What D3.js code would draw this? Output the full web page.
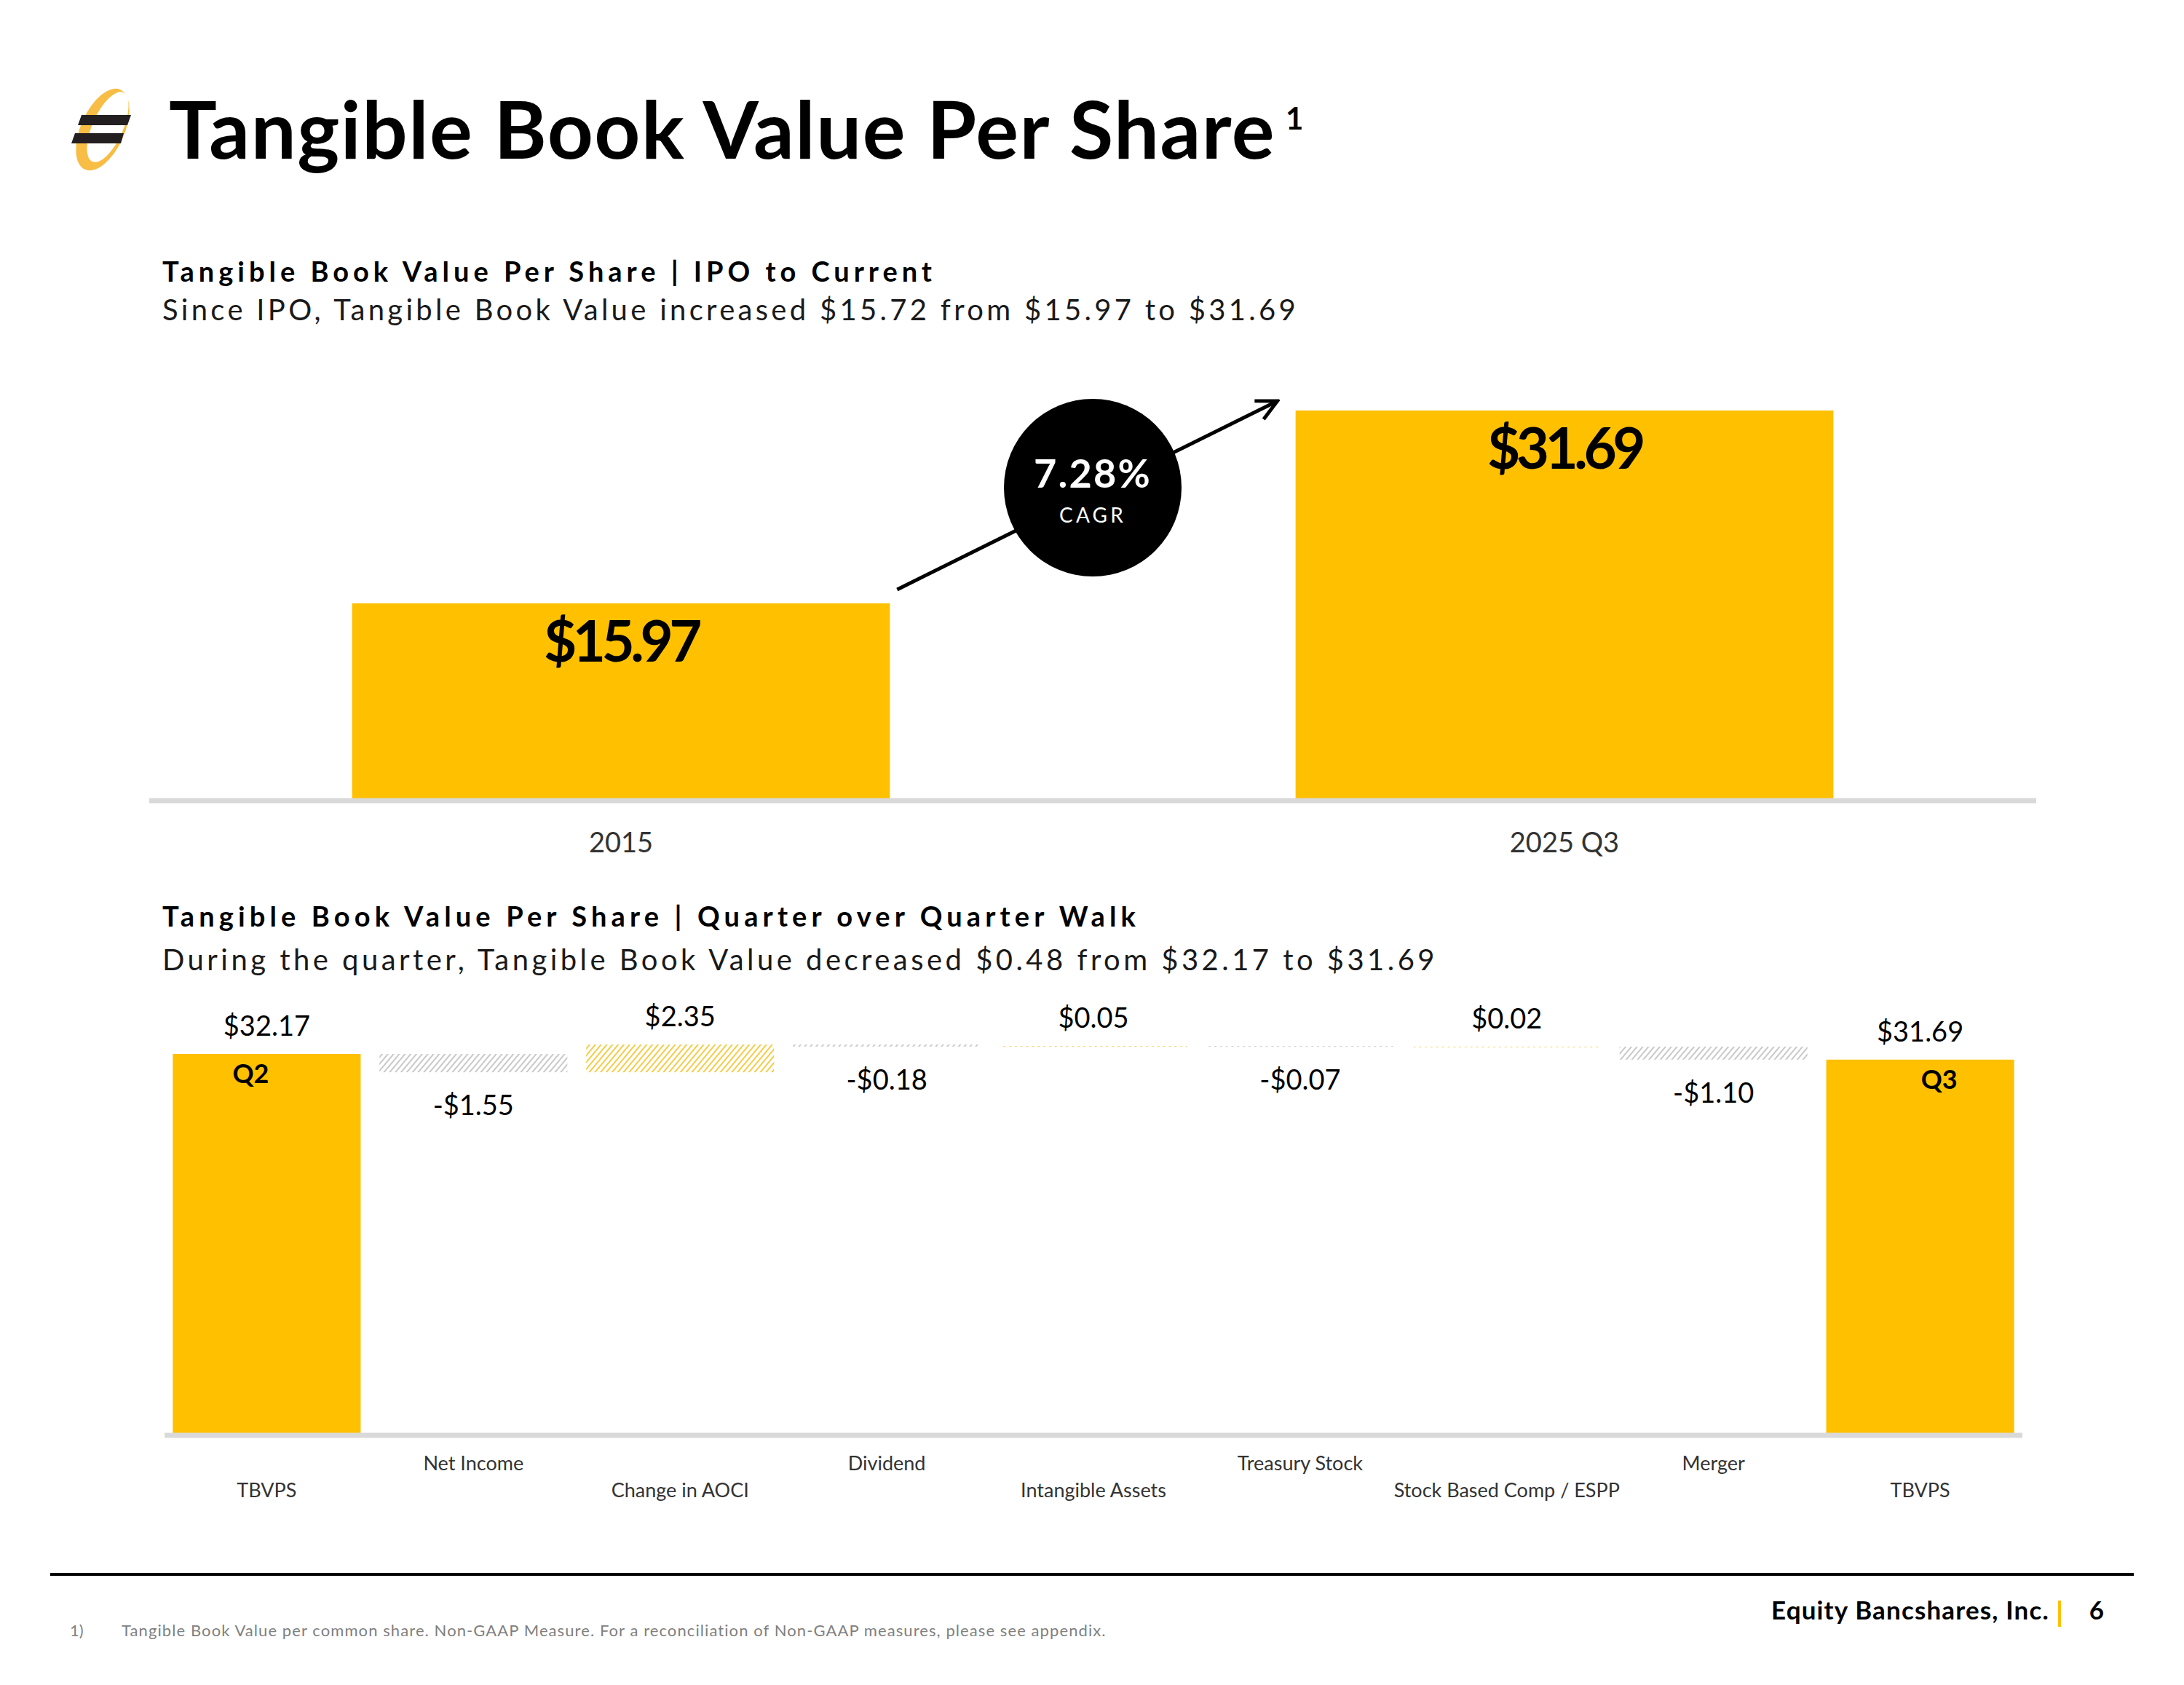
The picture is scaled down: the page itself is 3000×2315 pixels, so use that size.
<!DOCTYPE html>
<html>
<head>
<meta charset="utf-8">
<script src="https://cdn.jsdelivr.net/npm/d3@7"></script>
<style>
  body { margin: 0; background: #fff; }
  svg { display: block; font-family: Lato, "Open Sans", sans-serif; }
</style>
</head>
<body>
<script>
// data, top chart (IPO to current)
const ipoCats = ["2015", "2025 Q3"];
const ipoValues = [15.97, 31.69];
const cagrText = "7.28%";

// data, bottom chart (quarter walk)
const walkCats = ["TBVPS", "Net Income", "Change in AOCI", "Dividend", "Intangible Assets",
  "Treasury Stock", "Stock Based Comp / ESPP", "Merger", "TBVPS"];
const walkValues = [32.17, -1.55, 2.35, -0.18, 0.05, -0.07, 0.02, -1.10, 31.69];
const walkTypes = ["total", "delta", "delta", "delta", "delta", "delta", "delta", "delta", "total"];
const walkTags = ["Q2", "", "", "", "", "", "", "", "Q3"];

const gold = "#FFC000";
const axisGray = "#D9D9D9";

const svg = d3.select("body").append("svg")
  .attr("width", 3000)
  .attr("height", 2315)

svg.append("rect").attr("width", 3000).attr("height", 2315).attr("fill", "#fff")

// stretch/squeeze a text to a given width using letter spacing
function fit(sel, w) {
  const n = sel.text().length
  const w0 = sel.node().getComputedTextLength()
  sel.attr("letter-spacing", (w - w0) / n)
  return sel
}

// hatch patterns for the walk steps
const defs = svg.append("defs")
function hatch(id, color) {
  const p = defs.append("pattern")
    .attr("id", id)
    .attr("patternUnits", "userSpaceOnUse")
    .attr("width", 6).attr("height", 6)
    .attr("patternTransform", "rotate(40)")
  p.append("rect").attr("width", 6).attr("height", 6).attr("fill", "#fff")
  p.append("line")
    .attr("x1", 1).attr("y1", 0).attr("x2", 1).attr("y2", 6)
    .attr("stroke", color).attr("stroke-width", 2)
}
hatch("hatchNeg", "#C9C9C9")
hatch("hatchPos", "#F5CC4A")

defs.append("marker")
  .attr("id", "arrow")
  .attr("viewBox", "0 0 10 10")
  .attr("refX", 9).attr("refY", 5)
  .attr("markerWidth", 7).attr("markerHeight", 7)
  .attr("orient", "auto")
  .append("path")
  .attr("d", "M1,1 L9,5 L1,9")
  .attr("fill", "none")
  .attr("stroke", "#000")
  .attr("stroke-width", 1.4)

// logo
const logo = svg.append("g")
logo.append("path")
  .attr("fill", "#F8BD44")
  .attr("fill-rule", "evenodd")
  .attr("d", () => {
    const ell = (cx, cy, rx, ry) => `M${cx - rx},${cy} a${rx},${ry} 0 1,0 ${2 * rx},0 a${rx},${ry} 0 1,0 ${-2 * rx},0 Z`
    return ell(0, 0, 30, 60) + ell(5, -6, 21, 52)
  })
  .attr("transform", "translate(141,178) rotate(24)")
logo.append("path").attr("fill", "#231F20").attr("d", "M112,158 L180,158 L175,172 L107,172 Z")
logo.append("path").attr("fill", "#231F20").attr("d", "M103,183 L170,183 L166,197 L98,197 Z")

// title
const title = svg.append("text")
  .attr("x", 232).attr("y", 218)
  .attr("font-size", 110).attr("font-weight", 700)
  .text("Tangible Book Value Per Share")
fit(title, 1520)
svg.append("text")
  .attr("x", 1766).attr("y", 178)
  .attr("font-size", 42).attr("font-weight", 700)
  .text("1")

// section headers
function header(y1, y2, bold, light, w1, w2) {
  const a = svg.append("text").attr("x", 223).attr("y", y1)
    .attr("font-size", 38).attr("font-weight", 700).text(bold)
  fit(a, w1)
  const b = svg.append("text").attr("x", 223).attr("y", y2)
    .attr("font-size", 40).attr("font-weight", 400).attr("fill", "#1a1a1a").text(light)
  fit(b, w2)
}
header(387, 440, "Tangible Book Value Per Share | IPO to Current",
  "Since IPO, Tangible Book Value increased $15.72 from $15.97 to $31.69", 1063, 1561)
header(1273, 1333, "Tangible Book Value Per Share | Quarter over Quarter Walk",
  "During the quarter, Tangible Book Value decreased $0.48 from $32.17 to $31.69", 1343, 1752)

// ---------- top chart ----------
const x1 = d3.scaleBand().domain(ipoCats).range([205, 2797]).paddingInner(0.43).paddingOuter(0.215)
const y1 = d3.scaleLinear().domain([0, d3.max(ipoValues)]).range([1098, 564])

const ipoChart = svg.append("g")
ipoChart.selectAll("rect.bar").data(ipoValues).join("rect")
  .attr("class", "bar")
  .attr("x", (d, i) => x1(ipoCats[i]))
  .attr("y", d => y1(d))
  .attr("width", x1.bandwidth())
  .attr("height", d => y1(0) - y1(d))
  .attr("fill", gold)

ipoChart.append("line")
  .attr("x1", 205).attr("x2", 2797)
  .attr("y1", y1(0) + 2).attr("y2", y1(0) + 2)
  .attr("stroke", axisGray).attr("stroke-width", 7)

ipoChart.selectAll("text.val").data(ipoValues).join("text")
  .attr("class", "val")
  .attr("x", (d, i) => x1(ipoCats[i]) + x1.bandwidth() / 2)
  .attr("y", d => y1(d) + 80)
  .attr("text-anchor", "middle")
  .attr("font-size", 78).attr("font-weight", 700)
  .text(d => "$" + d.toFixed(2))
  .each(function () { fit(d3.select(this), 212) })

ipoChart.selectAll("text.cat").data(ipoCats).join("text")
  .attr("class", "cat")
  .attr("x", d => x1(d) + x1.bandwidth() / 2)
  .attr("y", 1171)
  .attr("text-anchor", "middle")
  .attr("font-size", 38).attr("fill", "#333")
  .text(d => d)

// CAGR arrow and badge
const ax1 = x1(ipoCats[0]) + x1.bandwidth() + 10, ay1 = y1(ipoValues[0]) - 19
const ax2 = x1(ipoCats[1]) - 25, ay2 = y1(ipoValues[1]) - 13
ipoChart.append("line")
  .attr("x1", ax1).attr("y1", ay1).attr("x2", ax2).attr("y2", ay2)
  .attr("stroke", "#000").attr("stroke-width", 5)
  .attr("marker-end", "url(#arrow)")
const cx = (x1(ipoCats[0]) + x1.bandwidth() + x1(ipoCats[1])) / 2
ipoChart.append("circle").attr("cx", cx).attr("cy", 670).attr("r", 122).attr("fill", "#000")
fit(ipoChart.append("text")
  .attr("x", cx).attr("y", 670).attr("text-anchor", "middle")
  .attr("font-size", 54).attr("font-weight", 700).attr("fill", "#fff")
  .text(cagrText), 162)
fit(ipoChart.append("text")
  .attr("x", cx).attr("y", 718).attr("text-anchor", "middle")
  .attr("font-size", 28).attr("fill", "#fff")
  .text("CAGR"), 92)

// ---------- bottom chart ----------
const x2 = d3.scaleBand().domain(d3.range(walkCats.length)).range([226, 2778]).paddingInner(0.091).paddingOuter(0.04)
const y2 = d3.scaleLinear().domain([0, walkValues[0]]).range([1970, 1448])

let run = 0
const steps = walkValues.map((v, i) => {
  let lo, hi
  if (walkTypes[i] === "total") { lo = 0; hi = v; run = v }
  else { lo = Math.min(run, run + v); hi = Math.max(run, run + v); run += v }
  return { i, v, lo, hi, type: walkTypes[i] }
})

const walk = svg.append("g")
walk.selectAll("rect.step").data(steps).join("rect")
  .attr("class", "step")
  .attr("x", d => x2(d.i))
  .attr("width", x2.bandwidth())
  .attr("y", d => y2(d.hi))
  .attr("height", d => Math.max(1, y2(d.lo) - y2(d.hi)))
  .attr("fill", d => d.type === "total" ? gold : (d.v < 0 ? "url(#hatchNeg)" : "url(#hatchPos)"))

walk.append("line")
  .attr("x1", 226).attr("x2", 2778)
  .attr("y1", y2(0) + 2).attr("y2", y2(0) + 2)
  .attr("stroke", axisGray).attr("stroke-width", 7)

const fmt = v => (v < 0 ? "-$" : "$") + Math.abs(v).toFixed(2)
walk.selectAll("text.val").data(steps).join("text")
  .attr("class", "val")
  .attr("x", d => x2(d.i) + x2.bandwidth() / 2)
  .attr("y", d => d.v < 0 ? y2(d.lo) + 59 : y2(d.hi) - 25)
  .attr("text-anchor", "middle")
  .attr("font-size", 38)
  .text(d => fmt(d.v))

walk.selectAll("text.tag").data(steps.filter(d => walkTags[d.i])).join("text")
  .attr("class", "tag")
  .attr("x", d => x2(d.i) + x2.bandwidth() / 2 + (d.i === 0 ? -22 : 26))
  .attr("y", d => y2(d.hi) + 40)
  .attr("text-anchor", "middle")
  .attr("font-size", 36).attr("font-weight", 700)
  .text(d => walkTags[d.i])

walk.selectAll("text.cat").data(walkCats).join("text")
  .attr("class", "cat")
  .attr("x", (d, i) => x2(i) + x2.bandwidth() / 2)
  .attr("y", (d, i) => i % 2 ? 2020 : 2057)
  .attr("text-anchor", "middle")
  .attr("font-size", 27).attr("fill", "#333")
  .text(d => d)

// ---------- footer ----------
svg.append("line")
  .attr("x1", 69).attr("x2", 2931).attr("y1", 2163).attr("y2", 2163)
  .attr("stroke", "#000").attr("stroke-width", 4)
fit(svg.append("text")
  .attr("x", 2815).attr("y", 2225).attr("text-anchor", "end")
  .attr("font-size", 35).attr("font-weight", 700)
  .text("Equity Bancshares, Inc."), 382)
svg.append("rect").attr("x", 2827).attr("y", 2199).attr("width", 4).attr("height", 36).attr("fill", gold)
svg.append("text")
  .attr("x", 2880).attr("y", 2225).attr("text-anchor", "middle")
  .attr("font-size", 35).attr("font-weight", 700)
  .text("6")
svg.append("text")
  .attr("x", 96).attr("y", 2248)
  .attr("font-size", 22).attr("fill", "#808080")
  .text("1)")
fit(svg.append("text")
  .attr("x", 167).attr("y", 2248)
  .attr("font-size", 22).attr("fill", "#808080")
  .text("Tangible Book Value per common share. Non-GAAP Measure. For a reconciliation of Non-GAAP measures, please see appendix."), 1353)
</script>
</body>
</html>
